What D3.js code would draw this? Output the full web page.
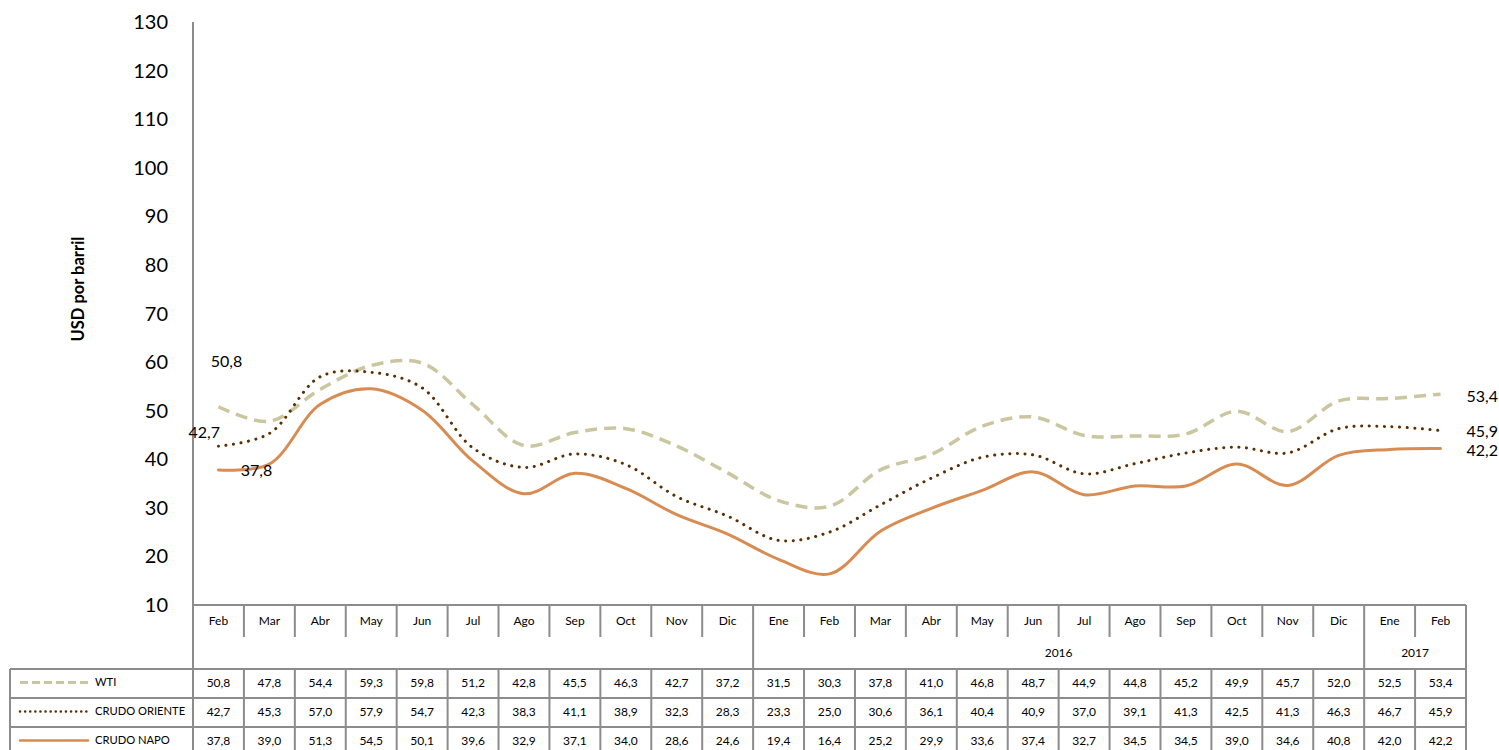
<!DOCTYPE html>
<html>
<head>
<meta charset="utf-8">
<script src="https://cdn.jsdelivr.net/npm/d3@7"></script>
<style>
  body { margin: 0; background: #fff; }
  svg { font-family: Lato, "Open Sans", sans-serif; }
</style>
</head>
<body>
<svg id="chart" width="1499" height="750"></svg>
<script>
// months and year groups
const months = ["Feb","Mar","Abr","May","Jun","Jul","Ago","Sep","Oct","Nov","Dic",
  "Ene","Feb","Mar","Abr","May","Jun","Jul","Ago","Sep","Oct","Nov","Dic","Ene","Feb"];
const years = [
  { label: "", from: 0, to: 10 },
  { label: "2016", from: 11, to: 22 },
  { label: "2017", from: 23, to: 24 }
];

const wti = [50.8,47.8,54.4,59.3,59.8,51.2,42.8,45.5,46.3,42.7,37.2,
  31.5,30.3,37.8,41.0,46.8,48.7,44.9,44.8,45.2,49.9,45.7,52.0,52.5,53.4];
const oriente = [42.7,45.3,57.0,57.9,54.7,42.3,38.3,41.1,38.9,32.3,28.3,
  23.3,25.0,30.6,36.1,40.4,40.9,37.0,39.1,41.3,42.5,41.3,46.3,46.7,45.9];
const napo = [37.8,39.0,51.3,54.5,50.1,39.6,32.9,37.1,34.0,28.6,24.6,
  19.4,16.4,25.2,29.9,33.6,37.4,32.7,34.5,34.5,39.0,34.6,40.8,42.0,42.2];

const yTicks = d3.range(10, 131, 10);

const series = [
  { name: "WTI", values: wti, color: "#c9c6a0", width: 3.5, dash: "12,7", cap: "butt" },
  { name: "CRUDO ORIENTE", values: oriente, color: "#5c2e00", width: 3, dash: "0.1,7.5", cap: "round" },
  { name: "CRUDO NAPO", values: napo, color: "#d98c52", width: 3, dash: null, cap: "round" }
];

const svg = d3.select("#chart");
const plotLeft = 193, plotRight = 1466, plotTop = 22, plotBottom = 605;
const gridColor = "#8c8c8c";

const x = d3.scaleBand().domain(d3.range(months.length)).range([plotLeft, plotRight]);
const y = d3.scaleLinear().domain([10, 130]).range([plotBottom, plotTop]);
const cx = i => x(i) + x.bandwidth() / 2;

// y axis labels
svg.append("g").selectAll("text").data(yTicks).join("text")
  .attr("x", 168).attr("y", d => y(d)).attr("dy", "0.35em")
  .attr("text-anchor", "end").attr("font-size", 20).attr("fill", "#000")
  .text(d => d);

svg.append("line").attr("x1", plotLeft).attr("x2", plotLeft).attr("y1", plotTop).attr("y2", 750)
  .attr("stroke", gridColor).attr("stroke-width", 2);

svg.append("text")
  .attr("transform", "translate(78,289) rotate(-90)")
  .attr("text-anchor", "middle").attr("dy", "0.35em")
  .attr("font-size", 16.5).attr("font-weight", "bold")
  .text("USD por barril");

// lines
const line = d3.line()
  .x((d, i) => cx(i))
  .y(d => y(d))
  .curve(d3.curveCatmullRom);

series.forEach(s => {
  svg.append("path").datum(s.values)
    .attr("d", line).attr("fill", "none")
    .attr("stroke", s.color).attr("stroke-width", s.width)
    .attr("stroke-dasharray", s.dash).attr("stroke-linecap", s.cap);
});

// data labels, first and last point
const labels = [
  { v: wti[0], x: cx(0) + 8, y: y(wti[0]) - 45, anchor: "middle" },
  { v: oriente[0], x: cx(0) - 30, y: y(oriente[0]) - 14, anchor: "start" },
  { v: napo[0], x: cx(0) + 38, y: y(napo[0]), anchor: "middle" },
  { v: wti[24], x: cx(24) + 26, y: y(wti[24]) + 2, anchor: "start" },
  { v: oriente[24], x: cx(24) + 26, y: y(oriente[24]) + 0.5, anchor: "start" },
  { v: napo[24], x: cx(24) + 26, y: y(napo[24]) + 1.5, anchor: "start" }
];
svg.append("g").selectAll("text").data(labels).join("text")
  .attr("x", d => d.x).attr("y", d => d.y).attr("dy", "0.35em")
  .attr("text-anchor", d => d.anchor).attr("font-size", 16)
  .text(d => d3.format(".1f")(d.v).replace(".", ","));

// table
const rowMonth = [605, 637], rowYear = [637, 669];
const rowTops = [669, 698, 727, 756];
const tbl = svg.append("g").attr("stroke", gridColor).attr("stroke-width", 2);

tbl.append("line").attr("x1", plotLeft).attr("x2", plotRight).attr("y1", plotBottom).attr("y2", plotBottom);
tbl.append("line").attr("x1", plotRight).attr("x2", plotRight).attr("y1", plotBottom).attr("y2", 750);
tbl.append("line").attr("x1", 10).attr("x2", 10).attr("y1", rowTops[0]).attr("y2", 750);
rowTops.slice(0, 3).forEach(t => {
  tbl.append("line").attr("x1", 10).attr("x2", plotRight).attr("y1", t).attr("y2", t);
});
// month dividers
d3.range(1, months.length).forEach(i => {
  tbl.append("line").attr("x1", x(i)).attr("x2", x(i)).attr("y1", rowMonth[0]).attr("y2", rowMonth[1]);
  tbl.append("line").attr("x1", x(i)).attr("x2", x(i)).attr("y1", rowTops[0]).attr("y2", 750);
});
years.slice(1).forEach(g => {
  tbl.append("line").attr("x1", x(g.from)).attr("x2", x(g.from)).attr("y1", rowYear[0]).attr("y2", rowYear[1]);
});

svg.append("g").selectAll("text").data(months).join("text")
  .attr("x", (d, i) => cx(i)).attr("y", 621).attr("dy", "0.35em")
  .attr("text-anchor", "middle").attr("font-size", 12).text(d => d);

svg.append("g").selectAll("text").data(years).join("text")
  .attr("x", d => (x(d.from) + x(d.to) + x.bandwidth()) / 2).attr("y", 653).attr("dy", "0.35em")
  .attr("text-anchor", "middle").attr("font-size", 12).text(d => d.label);

series.forEach((s, r) => {
  const cy = (rowTops[r] + rowTops[r + 1]) / 2 - 1;
  svg.append("line").attr("x1", 20).attr("x2", 88).attr("y1", cy).attr("y2", cy)
    .attr("stroke", s.color).attr("stroke-width", s.width - 0.5)
    .attr("stroke-dasharray", s.dash ? (s.cap === "round" ? "0.1,5" : "8,4") : null)
    .attr("stroke-linecap", s.cap);
  svg.append("text").attr("x", 95).attr("y", cy).attr("dy", "0.35em")
    .attr("font-size", 11.2).text(s.name);
  svg.append("g").selectAll("text").data(s.values).join("text")
    .attr("x", (d, i) => cx(i)).attr("y", cy).attr("dy", "0.35em")
    .attr("text-anchor", "middle").attr("font-size", 12)
    .text(d => d3.format(".1f")(d).replace(".", ","));
});
</script>
</body>
</html>
